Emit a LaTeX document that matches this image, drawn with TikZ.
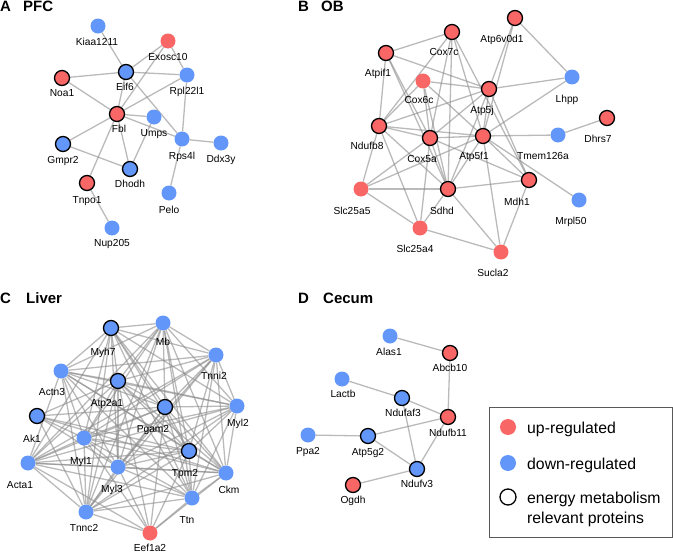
\documentclass[tikz,border=0pt]{standalone}
\usepackage{fontspec}
\setmainfont{Liberation Sans}
\usepackage{xcolor}
\usepackage{tikz}
\usetikzlibrary{positioning, calc}
\pgfdeclarelayer{bg}
\pgfsetlayers{bg,main}
\definecolor{upred}{RGB}{248,102,102}
\definecolor{downblue}{RGB}{99,150,249}

\begin{document}
\begin{tikzpicture}[
  x=1pt, y=-1pt,
  nd/.style={circle, minimum size=15pt, inner sep=0pt, fill=#1},
  en/.style={draw=black, line width=1.3pt},
  lbl/.style={font=\fontsize{10.2}{12}\selectfont, inner sep=0pt, text height=7.3pt, text depth=0pt},
  edg/.style={draw=black!45, line width=1.3pt, opacity=0.6},
  ttl/.style={font=\fontsize{15}{17}\selectfont\bfseries, anchor=base west, inner sep=0pt},
  leg/.style={font=\fontsize{15.8}{18}\selectfont, anchor=base west, inner sep=0pt},
]
\useasboundingbox (0,0) rectangle (673,554);

% ── panel titles ──
\node[ttl] (tA) at (0,12) {A};   \node[ttl] (tPFC) at (23,12) {PFC};
\node[ttl] (tB) at (298,12) {B}; \node[ttl] (tOB) at (321,12) {OB};
\node[ttl] (tC) at (0,303) {C};  \node[ttl] (tLiver) at (26,303) {Liver};
\node[ttl] (tD) at (298,303) {D}; \node[ttl] (tCecum) at (323,303) {Cecum};

% ── A: PFC ──
\node[nd=downblue] (Kiaa1211) at (98,26) {};     \node[lbl] (Kiaa1211-l) at (97,42) {Kiaa1211};
\node[nd=upred] (Exosc10) at (168,41) {};        \node[lbl] (Exosc10-l) at (168,57) {Exosc10};
\node[nd=downblue, en] (Eif6) at (126,72) {};    \node[lbl] (Eif6-l) at (125,87) {Eif6};
\node[nd=upred, en] (Noa1) at (62,78) {};        \node[lbl] (Noa1-l) at (62,93) {Noa1};
\node[nd=downblue] (Rpl22l1) at (187,75) {};     \node[lbl] (Rpl22l1-l) at (187,91) {Rpl22l1};
\node[nd=upred, en] (Fbl) at (117,114) {};       \node[lbl] (Fbl-l) at (119,129) {Fbl};
\node[nd=downblue] (Umps) at (154,117) {};       \node[lbl] (Umps-l) at (154,133) {Umps};
\node[nd=downblue] (Rps4l) at (182,139) {};      \node[lbl] (Rps4l-l) at (182,156) {Rps4l};
\node[nd=downblue] (Ddx3y) at (221,143) {};      \node[lbl] (Ddx3y-l) at (221,159) {Ddx3y};
\node[nd=downblue, en] (Gmpr2) at (63,144) {};   \node[lbl] (Gmpr2-l) at (63,160) {Gmpr2};
\node[nd=downblue, en] (Dhodh) at (130,169) {};  \node[lbl] (Dhodh-l) at (130,184) {Dhodh};
\node[nd=upred, en] (Tnpo1) at (87,183) {};      \node[lbl] (Tnpo1-l) at (87,200) {Tnpo1};
\node[nd=downblue] (Pelo) at (169,193) {};       \node[lbl] (Pelo-l) at (169,210) {Pelo};
\node[nd=downblue] (Nup205) at (112,228) {};     \node[lbl] (Nup205-l) at (112,243) {Nup205};

\begin{pgfonlayer}{bg}
\draw[edg] (Kiaa1211) -- (Eif6);
\draw[edg] (Exosc10) -- (Eif6);
\draw[edg] (Exosc10) -- (Rpl22l1);
\draw[edg] (Exosc10) -- (Fbl);
\draw[edg] (Noa1) -- (Eif6);
\draw[edg] (Noa1) -- (Fbl);
\draw[edg] (Eif6) -- (Rpl22l1);
\draw[edg] (Eif6) -- (Fbl);
\draw[edg] (Eif6) -- (Rps4l);
\draw[edg] (Fbl) -- (Rpl22l1);
\draw[edg] (Fbl) -- (Umps);
\draw[edg] (Fbl) -- (Rps4l);
\draw[edg] (Fbl) -- (Gmpr2);
\draw[edg] (Fbl) -- (Dhodh);
\draw[edg] (Fbl) -- (Tnpo1);
\draw[edg] (Umps) -- (Dhodh);
\draw[edg] (Gmpr2) -- (Dhodh);
\draw[edg] (Rpl22l1) -- (Rps4l);
\draw[edg] (Rps4l) -- (Ddx3y);
\draw[edg] (Rps4l) -- (Pelo);
\draw[edg] (Tnpo1) -- (Nup205);
\end{pgfonlayer}

% ── B: OB ──
\node[nd=upred, en] (Atp6v0d1) at (515,18) {};   \node[lbl] (Atp6v0d1-l) at (502,39) {Atp6v0d1};
\node[nd=upred, en] (Cox7c) at (452,32) {};      \node[lbl] (Cox7c-l) at (444,52) {Cox7c};
\node[nd=upred, en] (Atpif1) at (386,53) {};     \node[lbl] (Atpif1-l) at (378,73) {Atpif1};
\node[nd=downblue] (Lhpp) at (572,77) {};        \node[lbl] (Lhpp-l) at (567,99) {Lhpp};
\node[nd=upred] (Cox6c) at (423,81) {};          \node[lbl] (Cox6c-l) at (419,100) {Cox6c};
\node[nd=upred, en] (Atp5j) at (489,89) {};      \node[lbl] (Atp5j-l) at (482,110) {Atp5j};
\node[nd=upred, en] (Dhrs7) at (607,118) {};     \node[lbl] (Dhrs7-l) at (598,139) {Dhrs7};
\node[nd=upred, en] (Ndufb8) at (379,126) {};    \node[lbl] (Ndufb8-l) at (367,146) {Ndufb8};
\node[nd=upred, en] (Cox5a) at (430,138) {};     \node[lbl] (Cox5a-l) at (422,159) {Cox5a};
\node[nd=upred, en] (Atp5f1) at (483,136) {};    \node[lbl] (Atp5f1-l) at (474,156) {Atp5f1};
\node[nd=downblue] (Tmem126a) at (558,135) {};   \node[lbl] (Tmem126a-l) at (543,156) {Tmem126a};
\node[nd=upred, en] (Mdh1) at (529,180) {};      \node[lbl] (Mdh1-l) at (517,202) {Mdh1};
\node[nd=upred, en] (Sdhd) at (448,189) {};      \node[lbl] (Sdhd-l) at (442,211) {Sdhd};
\node[nd=upred] (Slc25a5) at (361,189) {};       \node[lbl] (Slc25a5-l) at (352,211) {Slc25a5};
\node[nd=downblue] (Mrpl50) at (579,200) {};     \node[lbl] (Mrpl50-l) at (571,221) {Mrpl50};
\node[nd=upred] (Slc25a4) at (420,228) {};       \node[lbl] (Slc25a4-l) at (415,249) {Slc25a4};
\node[nd=upred] (Sucla2) at (501,252) {};        \node[lbl] (Sucla2-l) at (493,273) {Sucla2};

\begin{pgfonlayer}{bg}
\foreach \a/\b in {Atpif1/Cox7c, Atpif1/Ndufb8, Atpif1/Atp5j, Atpif1/Cox5a, Atpif1/Sdhd,
    Cox7c/Ndufb8, Cox7c/Cox5a, Cox7c/Sdhd, Cox7c/Atp5f1, Cox7c/Mdh1,
    Atp6v0d1/Atp5j, Atp6v0d1/Atp5f1, Atp6v0d1/Lhpp, Lhpp/Atp5j, Lhpp/Atp5f1,
    Cox6c/Atp5j, Cox6c/Ndufb8, Cox6c/Cox5a, Cox6c/Atp5f1, Cox6c/Sdhd,
    Atp5j/Ndufb8, Atp5j/Cox5a, Atp5j/Atp5f1, Atp5j/Sdhd, Atp5j/Mdh1,
    Dhrs7/Tmem126a,
    Ndufb8/Cox5a, Ndufb8/Atp5f1, Ndufb8/Slc25a5, Ndufb8/Slc25a4, Ndufb8/Sdhd,
    Cox5a/Atp5f1, Cox5a/Sdhd, Cox5a/Slc25a5, Cox5a/Slc25a4, Cox5a/Mdh1,
    Atp5f1/Tmem126a, Atp5f1/Mdh1, Atp5f1/Sdhd, Atp5f1/Slc25a5, Atp5f1/Sucla2, Atp5f1/Mrpl50,
    Sdhd/Mdh1, Sdhd/Slc25a5, Sdhd/Slc25a4, Sdhd/Sucla2,
    Slc25a5/Slc25a4, Slc25a4/Sucla2, Mdh1/Sucla2}
  \draw[edg] (\a) -- (\b);
\end{pgfonlayer}

% ── C: Liver ──
\node[nd=downblue, en] (Myh7) at (111,328) {};   \node[lbl] (Myh7-l) at (103,352) {Myh7};
\node[nd=downblue] (Mb) at (163,323) {};         \node[lbl] (Mb-l) at (163,342) {Mb};
\node[nd=downblue] (Tnni2) at (216,355) {};      \node[lbl] (Tnni2-l) at (214,376) {Tnni2};
\node[nd=downblue] (Actn3) at (61,371) {};       \node[lbl] (Actn3-l) at (52,392) {Actn3};
\node[nd=downblue, en] (Atp2a1) at (118,381) {}; \node[lbl] (Atp2a1-l) at (107,403) {Atp2a1};
\node[nd=downblue, en] (Pgam2) at (165,407) {};  \node[lbl] (Pgam2-l) at (153,429) {Pgam2};
\node[nd=downblue] (Myl2) at (237,406) {};       \node[lbl] (Myl2-l) at (238,423) {Myl2};
\node[nd=downblue, en] (Ak1) at (37,416) {};     \node[lbl] (Ak1-l) at (32,439) {Ak1};
\node[nd=downblue] (Myl1) at (84,438) {};        \node[lbl] (Myl1-l) at (81,461) {Myl1};
\node[nd=downblue, en] (Tpm2) at (189,451) {};   \node[lbl] (Tpm2-l) at (185,473) {Tpm2};
\node[nd=downblue] (Acta1) at (28,463) {};       \node[lbl] (Acta1-l) at (20,485) {Acta1};
\node[nd=downblue] (Myl3) at (118,467) {};       \node[lbl] (Myl3-l) at (112,489) {Myl3};
\node[nd=downblue] (Ckm) at (226,473) {};        \node[lbl] (Ckm-l) at (229,490) {Ckm};
\node[nd=downblue] (Ttn) at (192,498) {};        \node[lbl] (Ttn-l) at (187,520) {Ttn};
\node[nd=downblue] (Tnnc2) at (86,512) {};       \node[lbl] (Tnnc2-l) at (84,528) {Tnnc2};
\node[nd=upred] (Eef1a2) at (150,533) {};        \node[lbl] (Eef1a2-l) at (150,548) {Eef1a2};

\begin{pgfonlayer}{bg}
\foreach \a [count=\i] in {Myh7,Mb,Tnni2,Actn3,Atp2a1,Pgam2,Myl2,Myl1,Tpm2,Acta1,Myl3,Ckm,Ttn,Tnnc2}
  \foreach \b [count=\j] in {Myh7,Mb,Tnni2,Actn3,Atp2a1,Pgam2,Myl2,Myl1,Tpm2,Acta1,Myl3,Ckm,Ttn,Tnnc2}
    {\ifnum\j>\i \draw[edg] (\a) -- (\b); \fi}
\foreach \b in {Myl1,Myl3,Pgam2,Tpm2,Ckm,Atp2a1,Tnnc2}
  \draw[edg] (Ak1) -- (\b);
\foreach \b in {Acta1,Myl1,Myl3,Atp2a1,Pgam2,Tpm2,Ttn,Ckm,Tnnc2}
  \draw[edg] (Eef1a2) -- (\b);
\end{pgfonlayer}

% ── D: Cecum ──
\node[nd=downblue] (Alas1) at (390,336) {};      \node[lbl] (Alas1-l) at (389,352) {Alas1};
\node[nd=upred, en] (Abcb10) at (450,353) {};    \node[lbl] (Abcb10-l) at (450,368) {Abcb10};
\node[nd=downblue] (Lactb) at (342,379) {};      \node[lbl] (Lactb-l) at (343,394) {Lactb};
\node[nd=downblue, en] (Ndufaf3) at (402,398) {};\node[lbl] (Ndufaf3-l) at (403,413) {Ndufaf3};
\node[nd=upred, en] (Ndufb11) at (448,417) {};   \node[lbl] (Ndufb11-l) at (448,433) {Ndufb11};
\node[nd=downblue] (Ppa2) at (308,435) {};       \node[lbl] (Ppa2-l) at (308,451) {Ppa2};
\node[nd=downblue, en] (Atp5g2) at (368,436) {}; \node[lbl] (Atp5g2-l) at (368,452) {Atp5g2};
\node[nd=downblue, en] (Ndufv3) at (417,469) {}; \node[lbl] (Ndufv3-l) at (417,484) {Ndufv3};
\node[nd=upred, en] (Ogdh) at (353,485) {};      \node[lbl] (Ogdh-l) at (353,500) {Ogdh};

\begin{pgfonlayer}{bg}
\draw[edg] (Alas1) -- (Abcb10);
\draw[edg] (Abcb10) -- (Ndufb11);
\draw[edg] (Lactb) -- (Ndufaf3);
\draw[edg] (Ndufaf3) -- (Ndufb11);
\draw[edg] (Ndufaf3) -- (Ndufv3);
\draw[edg] (Ppa2) -- (Atp5g2);
\draw[edg] (Atp5g2) -- (Ndufb11);
\draw[edg] (Atp5g2) -- (Ndufv3);
\draw[edg] (Ndufb11) -- (Ndufv3);
\draw[edg] (Ogdh) -- (Ndufv3);
\end{pgfonlayer}

% ── legend ──
\node[draw=black!65, line width=1pt, minimum width=183pt, minimum height=130pt, inner sep=0pt] (legbox) at (580.5,472) {};
\node[nd=upred, minimum size=16pt] (lgup) at (508,427) {};
\node[nd=downblue, minimum size=16pt] (lgdown) at (508,463) {};
\node[nd=white, en, minimum size=16pt] (lgen) at (508,497) {};
\node[leg] (lgup-t) at (527,433) {up-regulated};
\node[leg] (lgdown-t) at (527,469) {down-regulated};
\node[leg] (lgen-t) at (527,503) {energy metabolism};
\node[leg] (lgen-t2) at (527,523) {relevant proteins};
\end{tikzpicture}
\end{document}
